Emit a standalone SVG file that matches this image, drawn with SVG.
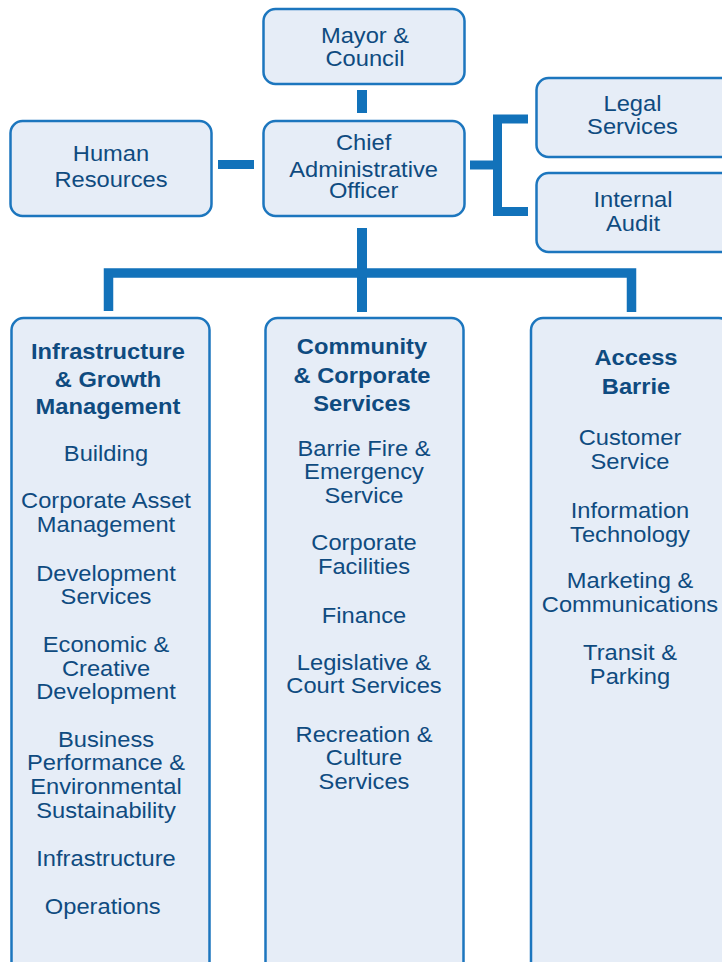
<svg xmlns="http://www.w3.org/2000/svg" width="722" height="962" viewBox="0 0 722 962">
  <style>
    .box { fill: #E6EDF7; stroke: #1C76BE; stroke-width: 2.5; }
    .link { fill: none; stroke: #1272BA; stroke-linecap: butt; stroke-linejoin: miter; }
    text { font-family: "Liberation Sans", Arial, sans-serif; font-size: 22px; fill: #0F4B80; text-anchor: middle; }
    .head { font-weight: bold; }
  </style>
  <rect width="722" height="962" fill="#FFFFFF"/>

  <!-- connectors -->
  <g id="connectors">
    <path class="link" stroke-width="10" d="M362 90 V113"/>
    <path class="link" stroke-width="9" d="M218 164.5 H254"/>
    <path class="link" stroke-width="9" d="M470 165 H498"/>
    <path class="link" stroke-width="9" d="M528 119 H497.5 V211.5 H528"/>
    <path class="link" stroke-width="10" d="M362 228 V312"/>
    <path class="link" stroke-width="9.5" d="M108.5 311 V273 H631.5 V312"/>
  </g>

  <g id="mayor-council">
    <rect class="box" x="263.5" y="9" width="201" height="75" rx="12"/>
    <g transform="translate(365 0) scale(1.077 1)">
      <text x="0" y="42.7">Mayor &amp;</text>
      <text x="0" y="66">Council</text>
    </g>
  </g>

  <g id="human-resources">
    <rect class="box" x="10.5" y="121" width="201" height="95" rx="12"/>
    <g transform="translate(111 0) scale(1.077 1)">
      <text x="0" y="160.7">Human</text>
      <text x="0" y="187.3">Resources</text>
    </g>
  </g>

  <g id="cao">
    <rect class="box" x="263.5" y="121" width="201" height="95" rx="12"/>
    <g transform="translate(363.6 0) scale(1.077 1)">
      <text x="0" y="150">Chief</text>
      <text x="0" y="176.7">Administrative</text>
      <text x="0" y="198.3">Officer</text>
    </g>
  </g>

  <g id="legal-services">
    <rect class="box" x="536.5" y="78" width="200" height="79" rx="12"/>
    <g transform="translate(632.5 0) scale(1.077 1)">
      <text x="0" y="110.7">Legal</text>
      <text x="0" y="134.3">Services</text>
    </g>
  </g>

  <g id="internal-audit">
    <rect class="box" x="536.5" y="173" width="200" height="79" rx="12"/>
    <g transform="translate(633 0) scale(1.077 1)">
      <text x="0" y="206.7">Internal</text>
      <text x="0" y="230.7">Audit</text>
    </g>
  </g>

  <g id="infrastructure-growth">
    <rect class="box" x="11.5" y="318" width="198" height="670" rx="12"/>
    <g transform="translate(108 0) scale(1.077 1)">
      <text class="head" x="0" y="359.3">Infrastructure</text>
      <text class="head" x="0" y="387.3">&amp; Growth</text>
      <text class="head" x="0" y="414.5">Management</text>
    </g>
    <g transform="translate(106 0) scale(1.077 1)">
      <text x="0" y="460.7">Building</text>
      <text x="0" y="508.3">Corporate Asset</text>
      <text x="0" y="532">Management</text>
      <text x="0" y="581">Development</text>
      <text x="0" y="604.5">Services</text>
      <text x="0" y="652">Economic &amp;</text>
      <text x="0" y="676">Creative</text>
      <text x="0" y="699.5">Development</text>
      <text x="0" y="746.7">Business</text>
      <text x="0" y="770.5">Performance &amp;</text>
      <text x="0" y="794.5">Environmental</text>
      <text x="0" y="818">Sustainability</text>
      <text x="0" y="866.5">Infrastructure</text>
      <text x="-3" y="914">Operations</text>
    </g>
  </g>

  <g id="community-corporate">
    <rect class="box" x="265.5" y="318" width="198" height="670" rx="12"/>
    <g transform="translate(362 0) scale(1.077 1)">
      <text class="head" x="0" y="354">Community</text>
      <text class="head" x="0" y="382.7">&amp; Corporate</text>
      <text class="head" x="0" y="410.7">Services</text>
    </g>
    <g transform="translate(364 0) scale(1.077 1)">
      <text x="0" y="455.7">Barrie Fire &amp;</text>
      <text x="0" y="479.5">Emergency</text>
      <text x="0" y="503.3">Service</text>
      <text x="0" y="550">Corporate</text>
      <text x="0" y="574.5">Facilities</text>
      <text x="0" y="622.7">Finance</text>
      <text x="0" y="670">Legislative &amp;</text>
      <text x="0" y="693.5">Court Services</text>
      <text x="0" y="741.7">Recreation &amp;</text>
      <text x="0" y="765.5">Culture</text>
      <text x="0" y="789.3">Services</text>
    </g>
  </g>

  <g id="access-barrie">
    <rect class="box" x="531" y="318" width="200" height="670" rx="12"/>
    <g transform="translate(636 0) scale(1.077 1)">
      <text class="head" x="0" y="365">Access</text>
      <text class="head" x="0" y="394">Barrie</text>
    </g>
    <g transform="translate(630 0) scale(1.077 1)">
      <text x="0" y="445.5">Customer</text>
      <text x="0" y="469.3">Service</text>
      <text x="0" y="518.3">Information</text>
      <text x="0" y="541.7">Technology</text>
      <text x="0" y="588.3">Marketing &amp;</text>
      <text x="0" y="612.3">Communications</text>
      <text x="0" y="660">Transit &amp;</text>
      <text x="0" y="684">Parking</text>
    </g>
  </g>
</svg>
